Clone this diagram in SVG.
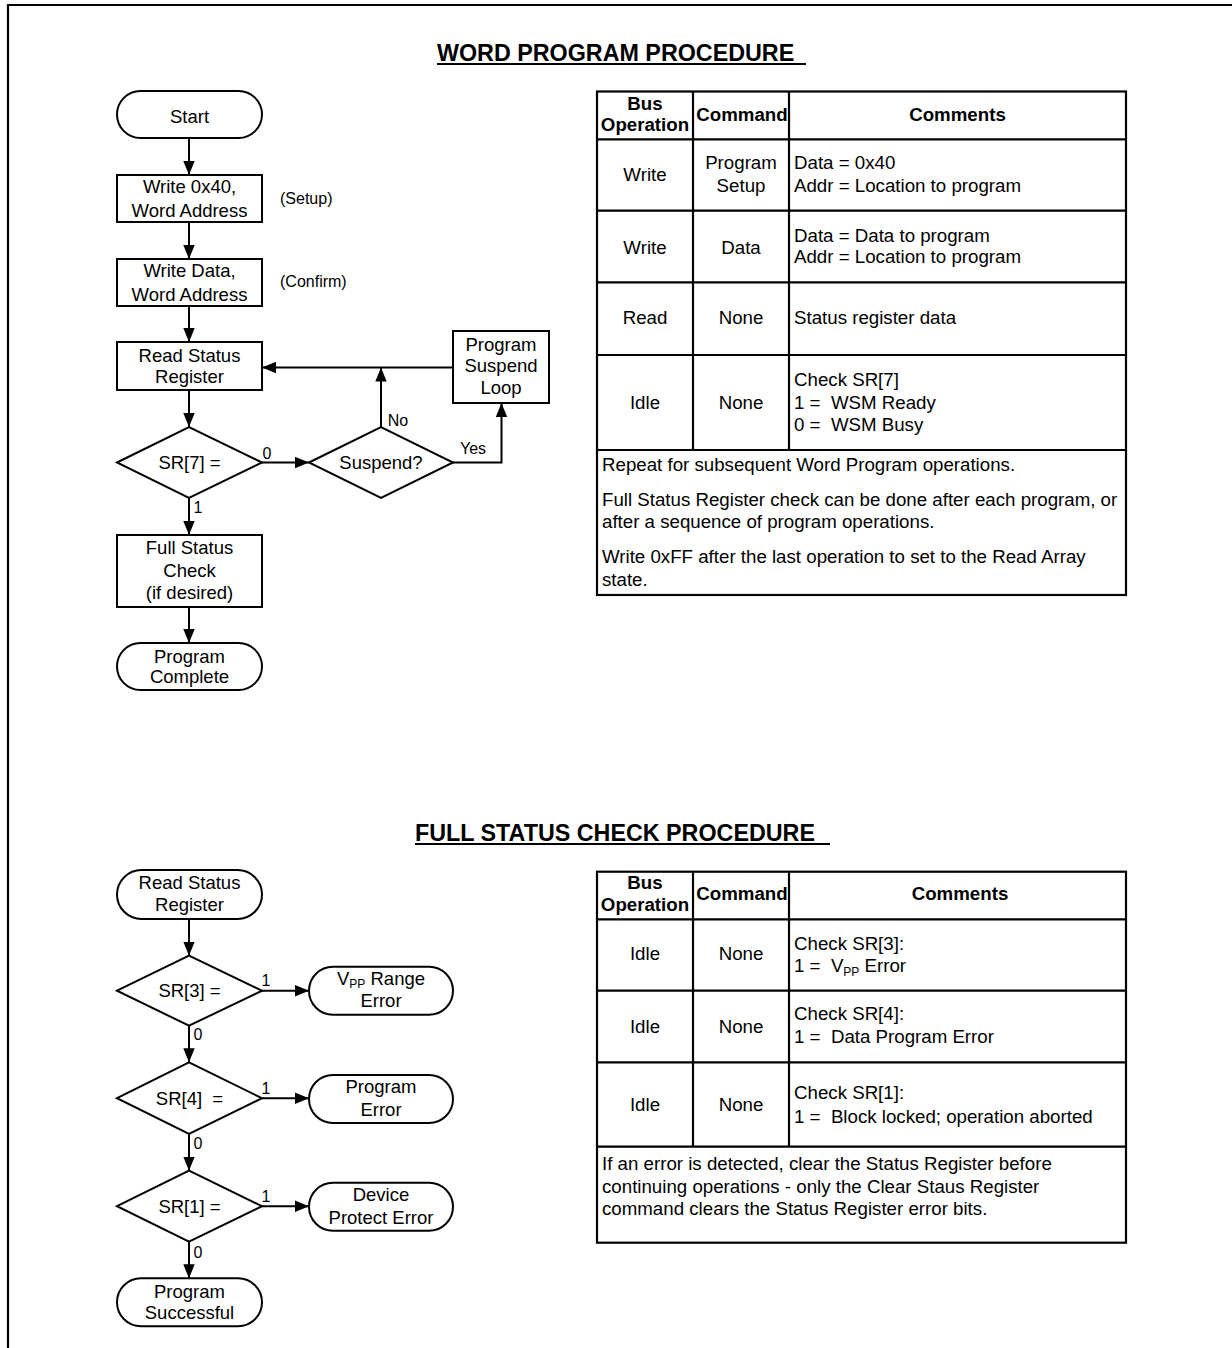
<svg xmlns="http://www.w3.org/2000/svg" width="1232" height="1348" viewBox="0 0 1232 1348">
<style>
text{font-family:"Liberation Sans",Arial,Helvetica,sans-serif;font-size:18.5px;fill:#000}
.c{text-anchor:middle}
.b{font-weight:bold}
.s{font-size:16px}
.tb{font-size:18.7px}
.ttl{font-size:23.3px;font-weight:bold}
.pre{white-space:pre}
.sub{font-size:12px}
.node{fill:#fff;stroke:#000;stroke-width:2}
.conn{fill:none;stroke:#000;stroke-width:2}
.grid{fill:none;stroke:#000;stroke-width:2.2}
</style>
<defs>
<marker id="ah" markerWidth="14" markerHeight="12" refX="14" refY="6" orient="auto" markerUnits="userSpaceOnUse">
<path d="M0,0.3 L14,6 L0,11.7 z" fill="#000"/>
</marker>
</defs>
<rect x="0" y="0" width="1232" height="1348" fill="#fff"/>
<path d="M8,1348 V5 H1232" fill="none" stroke="#000" stroke-width="2.2"/>

<!-- Titles -->
<g id="title-word-program">
<text class="ttl" x="437" y="61">WORD PROGRAM PROCEDURE</text>
<line x1="437" y1="64" x2="806" y2="64" stroke="#000" stroke-width="2"/>
</g>
<g id="title-full-status">
<text class="ttl" x="415" y="841">FULL STATUS CHECK PROCEDURE</text>
<line x1="415" y1="844" x2="830" y2="844" stroke="#000" stroke-width="2"/>
</g>

<!-- Connectors -->
<g id="connectors">
<line class="conn" x1="189" y1="138" x2="189" y2="175" marker-end="url(#ah)"/>
<line class="conn" x1="189" y1="222" x2="189" y2="259" marker-end="url(#ah)"/>
<line class="conn" x1="189" y1="306" x2="189" y2="342" marker-end="url(#ah)"/>
<line class="conn" x1="189" y1="390" x2="189" y2="427" marker-end="url(#ah)"/>
<line class="conn" x1="262" y1="462.5" x2="309" y2="462.5" marker-end="url(#ah)"/>
<line class="conn" x1="381" y1="427" x2="381" y2="367.5" marker-end="url(#ah)"/>
<line class="conn" x1="453" y1="367.5" x2="262" y2="367.5" marker-end="url(#ah)"/>
<polyline class="conn" points="453,462.5 501.5,462.5 501.5,403" marker-end="url(#ah)"/>
<line class="conn" x1="189" y1="498" x2="189" y2="535" marker-end="url(#ah)"/>
<line class="conn" x1="189" y1="607" x2="189" y2="643" marker-end="url(#ah)"/>

<line class="conn" x1="189" y1="919" x2="189" y2="955.7" marker-end="url(#ah)"/>
<line class="conn" x1="262" y1="990.7" x2="309" y2="990.7" marker-end="url(#ah)"/>
<line class="conn" x1="189" y1="1025.7" x2="189" y2="1062.3" marker-end="url(#ah)"/>
<line class="conn" x1="262" y1="1098.2" x2="309" y2="1098.2" marker-end="url(#ah)"/>
<line class="conn" x1="189" y1="1134" x2="189" y2="1170.7" marker-end="url(#ah)"/>
<line class="conn" x1="262" y1="1206.2" x2="309" y2="1206.2" marker-end="url(#ah)"/>
<line class="conn" x1="189" y1="1241.7" x2="189" y2="1278.3" marker-end="url(#ah)"/>

<text class="s" x="280" y="204">(Setup)</text>
<text class="s" x="280" y="287">(Confirm)</text>
<text class="s c" x="267" y="459">0</text>
<text class="s c" x="398" y="426">No</text>
<text class="s c" x="473" y="454">Yes</text>
<text class="s c" x="198" y="513">1</text>
<text class="s c" x="266" y="986">1</text>
<text class="s c" x="198" y="1040">0</text>
<text class="s c" x="266" y="1094">1</text>
<text class="s c" x="198" y="1149">0</text>
<text class="s c" x="266" y="1202">1</text>
<text class="s c" x="198" y="1258">0</text>
</g>

<!-- Word program flowchart nodes -->
<g id="start">
<rect class="node" x="117" y="91" width="145" height="47" rx="23.5"/>
<text class="c" x="189.5" y="122.5">Start</text>
</g>
<g id="write-setup">
<rect class="node" x="117" y="175" width="145" height="47"/>
<text class="c" x="189.5" y="192.5">Write 0x40,</text>
<text class="c" x="189.5" y="216.5">Word Address</text>
</g>
<g id="write-data">
<rect class="node" x="117" y="259" width="145" height="47"/>
<text class="c" x="189.5" y="277">Write Data,</text>
<text class="c" x="189.5" y="301">Word Address</text>
</g>
<g id="read-status">
<rect class="node" x="117" y="342" width="145" height="48"/>
<text class="c" x="189.5" y="362">Read Status</text>
<text class="c" x="189.5" y="383">Register</text>
</g>
<g id="sr7">
<polygon class="node" points="117,462.5 189,427 262,462.5 189,498"/>
<text class="c" x="189.5" y="469">SR[7] =</text>
</g>
<g id="suspend">
<polygon class="node" points="309,462.5 381,427 453,462.5 381,498"/>
<text class="c" x="381" y="469">Suspend?</text>
</g>
<g id="suspend-loop">
<rect class="node" x="453" y="331" width="96" height="72"/>
<text class="c" x="501" y="350.5">Program</text>
<text class="c" x="501" y="372">Suspend</text>
<text class="c" x="501" y="394">Loop</text>
</g>
<g id="full-status-check">
<rect class="node" x="117" y="535" width="145" height="72"/>
<text class="c" x="189.5" y="554">Full Status</text>
<text class="c" x="189.5" y="577">Check</text>
<text class="c" x="189.5" y="599">(if desired)</text>
</g>
<g id="program-complete">
<rect class="node" x="117" y="643" width="145" height="47" rx="23.5"/>
<text class="c" x="189.5" y="662.5">Program</text>
<text class="c" x="189.5" y="683">Complete</text>
</g>

<!-- Full status check flowchart nodes -->
<g id="fs-read-status">
<rect class="node" x="117" y="870" width="145" height="49" rx="24.5"/>
<text class="c" x="189.5" y="889">Read Status</text>
<text class="c" x="189.5" y="911">Register</text>
</g>
<g id="sr3">
<polygon class="node" points="117,990.7 189,955.7 262,990.7 189,1025.7"/>
<text class="c" x="189.5" y="997">SR[3] =</text>
</g>
<g id="vpp-error">
<rect class="node" x="309" y="966.7" width="144" height="48" rx="24"/>
<text class="c" x="381" y="985">V<tspan class="sub" dy="3">PP</tspan><tspan dy="-3"> Range</tspan></text>
<text class="c" x="381" y="1006.5">Error</text>
</g>
<g id="sr4">
<polygon class="node" points="117,1098.2 189,1062.3 262,1098.2 189,1134"/>
<text class="c pre" x="189.5" y="1104.5">SR[4]  =</text>
</g>
<g id="program-error">
<rect class="node" x="309" y="1075" width="144" height="48" rx="24"/>
<text class="c" x="381" y="1092.5">Program</text>
<text class="c" x="381" y="1116">Error</text>
</g>
<g id="sr1">
<polygon class="node" points="117,1206.2 189,1170.7 262,1206.2 189,1241.7"/>
<text class="c" x="189.5" y="1212.5">SR[1] =</text>
</g>
<g id="device-protect-error">
<rect class="node" x="309" y="1182.7" width="144" height="48" rx="24"/>
<text class="c" x="381" y="1201">Device</text>
<text class="c" x="381" y="1224">Protect Error</text>
</g>
<g id="program-successful">
<rect class="node" x="117" y="1278.3" width="145" height="48" rx="24"/>
<text class="c" x="189.5" y="1297.5">Program</text>
<text class="c" x="189.5" y="1319">Successful</text>
</g>

<!-- Word program table -->
<g id="table-word-program">
<rect class="grid" x="597" y="91.5" width="529" height="503.5"/>
<line class="grid" x1="597" y1="139.3" x2="1126" y2="139.3"/>
<line class="grid" x1="597" y1="210.7" x2="1126" y2="210.7"/>
<line class="grid" x1="597" y1="282.3" x2="1126" y2="282.3"/>
<line class="grid" x1="597" y1="355" x2="1126" y2="355"/>
<line class="grid" x1="597" y1="450" x2="1126" y2="450"/>
<line class="grid" x1="693" y1="91.5" x2="693" y2="450"/>
<line class="grid" x1="789" y1="91.5" x2="789" y2="450"/>
<text class="tb b c" x="645" y="110">Bus</text>
<text class="tb b c" x="645" y="131">Operation</text>
<text class="tb b c" x="742" y="121">Command</text>
<text class="tb b c" x="957.5" y="121">Comments</text>
<text class="tb c" x="645" y="181">Write</text>
<text class="tb c" x="741" y="169">Program</text>
<text class="tb c" x="741" y="192">Setup</text>
<text class="tb" x="794" y="169">Data = 0x40</text>
<text class="tb" x="794" y="192">Addr = Location to program</text>
<text class="tb c" x="645" y="254">Write</text>
<text class="tb c" x="741" y="254">Data</text>
<text class="tb" x="794" y="242">Data = Data to program</text>
<text class="tb" x="794" y="263">Addr = Location to program</text>
<text class="tb c" x="645" y="324">Read</text>
<text class="tb c" x="741" y="324">None</text>
<text class="tb" x="794" y="324">Status register data</text>
<text class="tb c" x="645" y="409">Idle</text>
<text class="tb c" x="741" y="409">None</text>
<text class="tb" x="794" y="386">Check SR[7]</text>
<text class="tb pre" x="794" y="409">1 =  WSM Ready</text>
<text class="tb pre" x="794" y="431">0 =  WSM Busy</text>
<text class="tb" x="602" y="471">Repeat for subsequent Word Program operations.</text>
<text class="tb" x="602" y="506">Full Status Register check can be done after each program, or</text>
<text class="tb" x="602" y="528">after a sequence of program operations.</text>
<text class="tb" x="602" y="563">Write 0xFF after the last operation to set to the Read Array</text>
<text class="tb" x="602" y="586">state.</text>
</g>

<!-- Full status check table -->
<g id="table-full-status">
<rect class="grid" x="597" y="871.7" width="529" height="371"/>
<line class="grid" x1="597" y1="919.3" x2="1126" y2="919.3"/>
<line class="grid" x1="597" y1="990.7" x2="1126" y2="990.7"/>
<line class="grid" x1="597" y1="1062.3" x2="1126" y2="1062.3"/>
<line class="grid" x1="597" y1="1146.7" x2="1126" y2="1146.7"/>
<line class="grid" x1="693" y1="871.7" x2="693" y2="1146.7"/>
<line class="grid" x1="789" y1="871.7" x2="789" y2="1146.7"/>
<text class="tb b c" x="645" y="889">Bus</text>
<text class="tb b c" x="645" y="911">Operation</text>
<text class="tb b c" x="742" y="900">Command</text>
<text class="tb b c" x="960" y="900">Comments</text>
<text class="tb c" x="645" y="960">Idle</text>
<text class="tb c" x="741" y="960">None</text>
<text class="tb" x="794" y="950">Check SR[3]:</text>
<text class="tb pre" x="794" y="972">1 =  V<tspan class="sub" dy="4">PP</tspan><tspan dy="-4"> Error</tspan></text>
<text class="tb c" x="645" y="1033">Idle</text>
<text class="tb c" x="741" y="1033">None</text>
<text class="tb" x="794" y="1020">Check SR[4]:</text>
<text class="tb pre" x="794" y="1043">1 =  Data Program Error</text>
<text class="tb c" x="645" y="1111">Idle</text>
<text class="tb c" x="741" y="1111">None</text>
<text class="tb" x="794" y="1099">Check SR[1]:</text>
<text class="tb pre" x="794" y="1123">1 =  Block locked; operation aborted</text>
<text class="tb" x="602" y="1170">If an error is detected, clear the Status Register before</text>
<text class="tb" x="602" y="1193">continuing operations - only the Clear Staus Register</text>
<text class="tb" x="602" y="1215">command clears the Status Register error bits.</text>
</g>
</svg>
